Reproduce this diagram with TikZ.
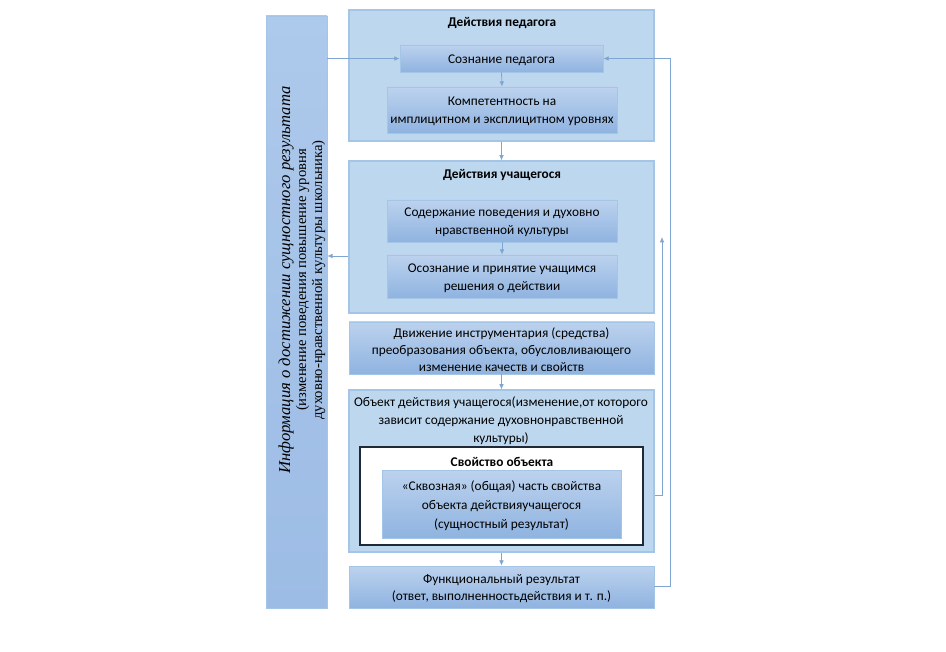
\documentclass[tikz,border=0pt]{standalone}
\usepackage{fontspec}
\setmainfont{Carlito}
\newfontfamily\tnr{Liberation Serif}
\usetikzlibrary{fit,arrows.meta}
\definecolor{outerfill}{HTML}{BDD7EE}
\definecolor{outerdraw}{HTML}{A5C5E6}
\definecolor{intop}{HTML}{BCD2EE}
\definecolor{inbot}{HTML}{8FB3E0}
\definecolor{lftop}{HTML}{ADC9EB}
\definecolor{lfbot}{HTML}{9DBCE5}
\definecolor{lnc}{HTML}{7FA6D2}
\definecolor{darkb}{HTML}{1F2A36}
\begin{document}
\begin{tikzpicture}[x=0.75pt,y=-0.75pt,
  outer/.style={draw=outerdraw, fill=outerfill, line width=0.8pt, inner sep=0pt},
  innerb/.style={draw=outerdraw, top color=intop, bottom color=inbot, line width=0.5pt, inner sep=0pt},
  txt/.style={font=\fontsize{10}{13.3}\selectfont, align=center, text=black, inner sep=0pt, yshift=-1.2pt},
  ttl/.style={font=\fontsize{10}{12}\selectfont\bfseries, text=black, inner sep=0pt},
  arr/.style={draw=lnc, line width=0.6pt, -{Latex[length=4pt,width=3.5pt]}}]
\useasboundingbox[fill=white] (0,0) rectangle (946,652);

% left info box
\node[draw=outerdraw, top color=lftop, bottom color=lfbot, inner sep=0pt, fit={(266,16) (327,608)}] (left) {};
\node[rotate=90, align=center, font=\tnr\fontsize{11}{12}\selectfont] (lefttxt) at (302,280)
 {{\fontsize{12.5}{12}\selectfont\itshape Информация о достижении сущностного результата}\\
  (изменение поведения повышение уровня\\
  духовно-нравственной культуры школьника)};

% block 1
\node[outer, fit={(349,10) (654,141)}] (b1) {};
\node[ttl] (b1t) at (502,23) {Действия педагога};
\node[innerb, fit={(400,45) (603,72)}] (soz) {};
\node[txt] (sozt) at (soz.center) {Сознание педагога};
\node[innerb, fit={(387,87) (617,133)}] (komp) {};
\node[txt] (kompt) at (komp.center) {Компетентность на\\имплицитном и эксплицитном уровнях};

% block 2
\node[outer, fit={(349,161) (654,313)}] (b2) {};
\node[ttl] (b2t) at (502,175) {Действия учащегося};
\node[innerb, fit={(387,200) (617,242)}] (sod) {};
\node[txt] (sodt) at (sod.center) {Содержание поведения и духовно\\нравственной культуры};
\node[innerb, fit={(387,255) (617,298)}] (osoz) {};
\node[txt] (osozt) at (osoz.center) {Осознание и принятие учащимся\\решения о действии};

% block 3
\node[innerb, fit={(349,322) (654,374)}] (b3) {};
\node[txt, font=\fontsize{10}{12.6}\selectfont] (b3t) at (b3.center) {Движение инструментария (средства)\\преобразования объекта, обусловливающего\\изменение качеств и свойств};

% block 4
\node[outer, fit={(349,390) (654,552)}] (b4) {};
\node[txt] (b4t) at (501,419) {Объект действия учащегося(изменение,от которого\\зависит содержание духовнонравственной\\культуры)};
\node[draw=darkb, fill=white, line width=1pt, inner sep=0pt, fit={(360,447) (643,545)}] (svo) {};
\node[ttl] (svot) at (502,462) {Свойство объекта};
\node[innerb, fit={(382,470) (621,538)}] (skv) {};
\node[txt, font=\fontsize{10}{14}\selectfont] (skvt) at (skv.center) {«Сквозная» (общая) часть свойства\\объекта действияучащегося\\(сущностный результат)};

% block 5
\node[innerb, fit={(349,566) (654,608)}] (b5) {};
\node[txt] (b5t) at (b5.center) {Функциональный результат\\(ответ, выполненностьдействия и т. п.)};

% coordinates for loops
\coordinate (r1) at (670,586);
\coordinate (r2) at (670,58.5);
\coordinate (q1) at (662,495);
\coordinate (q2) at (662,237);

% connectors
\draw[arr] (left.east |- soz.west) -- (soz.west);
\draw[arr] (soz.south) -- (komp.north);
\draw[arr] (b1.south) -- (b2.north);
\draw[arr] (sod.south) -- (osoz.north);
\draw[arr] (b2.west |- 0,256) -- (left.east |- 0,256);
\draw[arr] (b3.south) -- (b4.north);
\draw[arr] (b4.south) -- (b5.north);
\draw[arr] (b5.east |- r1) -- (r1) -- (r2) -- (soz.east);
\draw[arr] (b4.east |- q1) -- (q1) -- (q2);
\end{tikzpicture}
\end{document}
